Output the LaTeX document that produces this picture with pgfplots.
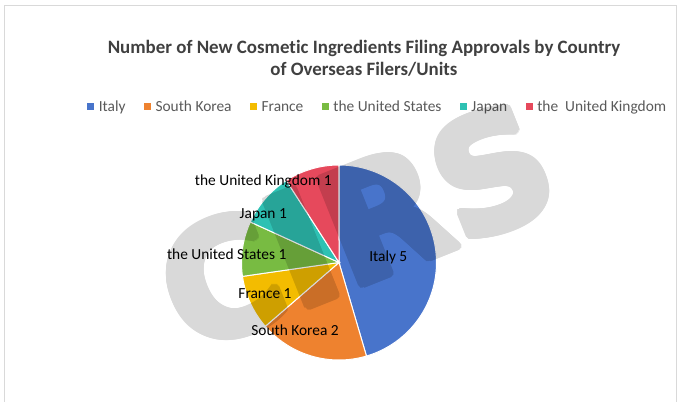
\documentclass[border=0pt]{standalone}
\usepackage{fontspec}
\setmainfont{Carlito}[Ligatures=NoCommon]
\newfontfamily\wmfont{DejaVu Sans}
\usepackage{pgfplots}
\pgfplotsset{compat=1.18}
\usepackage[copies]{contour}

\definecolor{cItaly}{HTML}{4874CB}
\definecolor{cKorea}{HTML}{EE822F}
\definecolor{cFrance}{HTML}{F3BC00}
\definecolor{cUS}{HTML}{78BB42}
\definecolor{cJapan}{HTML}{2EC1B3}
\definecolor{cUK}{HTML}{E6495C}
\definecolor{framec}{HTML}{D9D9D9}
\definecolor{titlec}{HTML}{404040}
\definecolor{legc}{HTML}{595959}

% pie centre (339,139.5) radius 97.5 in pixel units; total = 11
% #1 cumulative start, #2 value, #3 colour, #4 legend text
\newcommand{\slice}[4]{%
  \addplot[fill=#3, draw=white, line width=1bp, no markers,
    domain=90-360*(#1+#2)/11:90-360*(#1)/11, samples=90, variable=\t]
    ({339+97.5*cos(\t)},{139.5+97.5*sin(\t)}) -- (axis cs:339,139.5) -- cycle;
  \addlegendentry{#4}%
}
\newcommand{\lbl}{\fontsize{15.4bp}{18bp}\selectfont}
\contourlength{4bp}
\contournumber{24}

\begin{document}
\begin{tikzpicture}
\begin{axis}[
  scale only axis, width=680bp, height=402bp,
  xmin=0, xmax=680, ymin=0, ymax=402,
  hide axis, clip=false, at={(0,0)}, anchor=south west,
  legend columns=-1,
  legend style={at={(axis cs:377.5,295)}, anchor=center, draw=none, fill=none,
    font=\fontsize{15.4bp}{18bp}\selectfont, inner sep=0pt,
    nodes={inner sep=1.5bp, text=legc},
    /tikz/every odd column/.append style={column sep=3bp},
    /tikz/every even column/.append style={column sep=17bp}},
  legend image code/.code={\fill[#1, draw=none] (0bp,-3.5bp) rectangle (7bp,3.5bp);},
]
% values: Italy 5, South Korea 2, France 1, the United States 1, Japan 1, the United Kingdom 1
\slice{0}{5}{cItaly}{Italy}
\slice{5}{2}{cKorea}{South Korea}
\slice{7}{1}{cFrance}{France}
\slice{8}{1}{cUS}{the United States}
\slice{9}{1}{cJapan}{Japan}
\slice{10}{1}{cUK}{the\ \ United Kingdom}

\draw[framec, line width=1bp] (axis cs:4,-5) -- (axis cs:4,396) -- (axis cs:676,396) -- (axis cs:676,-5);

\node[font=\bfseries\fontsize{18.9bp}{22bp}\selectfont, text=titlec, align=center]
  at (axis cs:364,344) {Number of New Cosmetic Ingredients Filing Approvals by Country\\of Overseas Filers/Units};

\node[font=\lbl] at (axis cs:388.3,144.7) {Italy 5};
\node[font=\lbl] at (axis cs:295,72) {South Korea 2};
\node[font=\lbl] at (axis cs:265,108) {France 1};
\node[font=\lbl] at (axis cs:226.7,148) {the United States 1};
\node[font=\lbl] at (axis cs:263.3,187) {Japan 1};
\node[font=\lbl] at (axis cs:263.3,221) {the United Kingdom 1};
\end{axis}
% watermark
\begin{scope}[transparency group, opacity=0.15]
\node[rotate=21.8, font=\wmfont\bfseries\fontsize{156bp}{156bp}\selectfont, text=black, inner sep=0pt]
  at (357bp,174bp) {\contour{black}{CIRS}};
\end{scope}
\pgfresetboundingbox
\useasboundingbox (0,0) rectangle (680bp,402bp);
\end{tikzpicture}
\end{document}
